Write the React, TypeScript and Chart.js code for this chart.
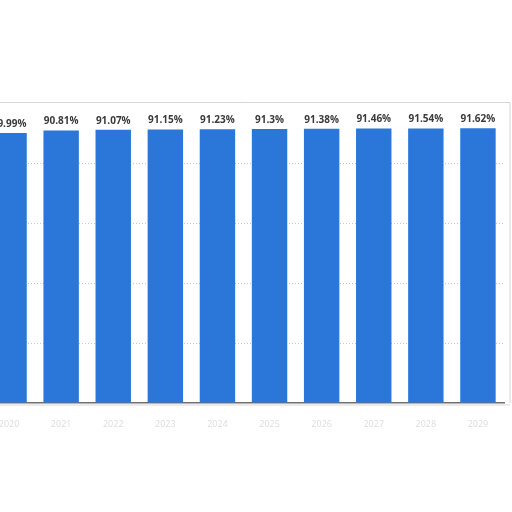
import { useEffect, useRef } from 'react';
import Chart from 'chart.js/auto';

const years = ['2020', '2021', '2022', '2023', '2024', '2025', '2026', '2027', '2028', '2029'];
const shares = [89.99, 90.81, 91.07, 91.15, 91.23, 91.3, 91.38, 91.46, 91.54, 91.62];
const yTicks = [0, 20, 40, 60, 80, 100];

// value labels above bars + light frame on top / right
const barLabels = {
  id: 'barLabels',
  afterDatasetsDraw(chart: any) {
    const { ctx, chartArea } = chart;
    ctx.save();
    ctx.strokeStyle = '#d6d6d6';
    ctx.lineWidth = 1;
    ctx.beginPath();
    ctx.moveTo(chartArea.left, chartArea.top - 0.5);
    ctx.lineTo(chartArea.right + 6, chartArea.top - 0.5);
    ctx.lineTo(chartArea.right + 6, chartArea.bottom);
    ctx.stroke();
    ctx.strokeStyle = 'rgba(0,0,0,0.08)';
    ctx.lineWidth = 2;
    ctx.beginPath();
    ctx.moveTo(chartArea.left, chartArea.bottom + 2);
    ctx.lineTo(chartArea.right + 6, chartArea.bottom + 2);
    ctx.stroke();

    ctx.fillStyle = '#3a3a3a';
    ctx.font = 'bold 10px "Open Sans", sans-serif';
    ctx.textAlign = 'center';
    ctx.textBaseline = 'bottom';
    const meta = chart.getDatasetMeta(0);
    meta.data.forEach((bar: any, i: number) => {
      ctx.fillText(shares[i] + '%', bar.x, bar.y - 4);
    });
    ctx.restore();
  },
};

export default function App() {
  const chartRef = useRef<HTMLCanvasElement>(null);
  const chartInstance = useRef<Chart | null>(null);

  useEffect(() => {
    document.body.style.margin = '0';
    document.body.style.overflow = 'hidden';
    if (chartRef.current) {
      const ctx = chartRef.current.getContext('2d');
      if (ctx) {
        chartInstance.current = new Chart(ctx, {
          type: 'bar',
          data: {
            labels: years,
            datasets: [{
              data: shares,
              backgroundColor: '#2a77d9',
              barPercentage: 0.68,
              categoryPercentage: 1,
            }],
          },
          options: {
            animation: false,
            responsive: false,
            layout: { padding: { left: 0, right: 9, top: 103, bottom: 0 } },
            scales: {
              x: {
                grid: { display: false },
                border: { display: true, color: '#6f6f6f', width: 1.5 },
                ticks: { color: '#dcdcdc', font: { size: 9, family: 'Open Sans' }, padding: 8 },
                afterFit: (axis: any) => {
                  axis.height = 109;
                },
              },
              y: {
                display: true,
                min: 0,
                max: 100,
                afterBuildTicks: (axis: any) => {
                  axis.ticks = yTicks.map((v) => ({ value: v }));
                },
                ticks: { display: false },
                grid: {
                  color: (c: any) => (c.tick && c.tick.value > 0 && c.tick.value < 100 ? '#c8c8c8' : 'rgba(0,0,0,0)'),
                  drawTicks: false,
                },
                border: { display: false, dash: [1, 2] },
              },
            },
            plugins: {
              legend: { display: false },
              tooltip: { enabled: false },
            },
          },
          plugins: [barLabels],
        });
      }
    }
    return () => {
      chartInstance.current?.destroy();
    };
  }, []);

  return (
    <div style={{ position: 'absolute', left: -17, top: 0, width: 530, height: 512, background: '#fff' }}>
      <canvas ref={chartRef} width={530} height={512}></canvas>
    </div>
  );
}
